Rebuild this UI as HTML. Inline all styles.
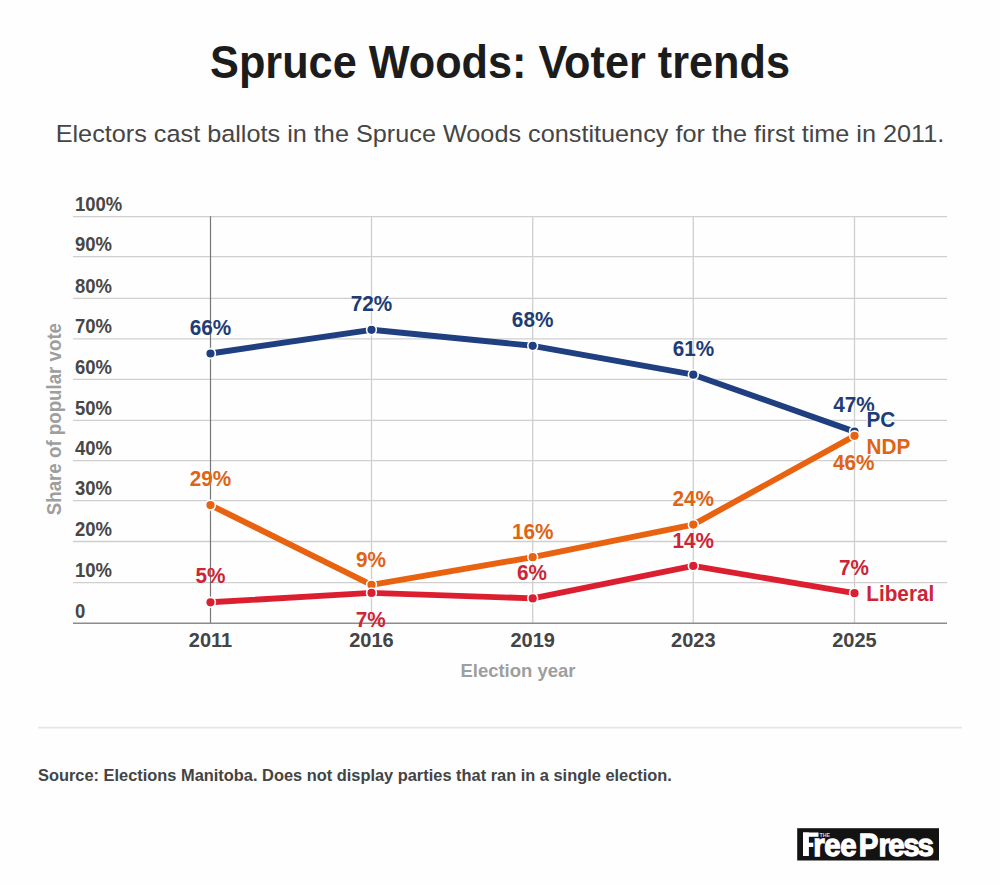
<!DOCTYPE html>
<html><head><meta charset="utf-8">
<style>
html,body{margin:0;padding:0;background:#fefefe;}
body{width:1000px;height:885px;position:relative;overflow:hidden;font-family:"Liberation Sans",sans-serif;}
.t{position:absolute;white-space:nowrap;line-height:1;}
#title{left:0;width:1000px;text-align:center;top:38.5px;font-size:46px;font-weight:bold;color:#1c1c1c;transform:scaleX(0.94);transform-origin:500.5px 0;}
#sub{left:0;width:1000px;text-align:center;top:122.3px;font-size:24.3px;color:#454545;transform:scaleX(1.039);transform-origin:500px 0;}
svg{position:absolute;left:0;top:0;}
svg text{font-family:"Liberation Sans",sans-serif;font-weight:bold;}
svg .rg text{font-weight:normal;}
#src{left:38px;top:767px;font-size:16.4px;font-weight:bold;color:#444;}
#logo{position:absolute;left:797px;top:828px;width:142px;height:32.5px;background:#131313;overflow:hidden;}
#logo span{position:absolute;color:#fff;font-weight:bold;white-space:nowrap;line-height:1;}
</style></head><body>
<div class="t" id="title">Spruce Woods: Voter trends</div>
<div class="t" id="sub">Electors cast ballots in the Spruce Woods constituency for the first time in 2011.</div>
<svg width="1000" height="885" viewBox="0 0 1000 885">

 <g stroke="#cfcfcf" stroke-width="1.3" fill="none">
  <line x1="73" y1="582.6" x2="947" y2="582.6"/>
  <line x1="73" y1="541.5" x2="947" y2="541.5"/>
  <line x1="73" y1="500.6" x2="947" y2="500.6"/>
  <line x1="73" y1="460.6" x2="947" y2="460.6"/>
  <line x1="73" y1="420.3" x2="947" y2="420.3"/>
  <line x1="73" y1="379.4" x2="947" y2="379.4"/>
  <line x1="73" y1="338.9" x2="947" y2="338.9"/>
  <line x1="73" y1="298.4" x2="947" y2="298.4"/>
  <line x1="73" y1="256.7" x2="947" y2="256.7"/>
  <line x1="73" y1="216.6" x2="947" y2="216.6"/>
  <line x1="371.5" y1="216.6" x2="371.5" y2="623.2"/>
  <line x1="532.7" y1="216.6" x2="532.7" y2="623.2"/>
  <line x1="693.3" y1="216.6" x2="693.3" y2="623.2"/>
  <line x1="854.5" y1="216.6" x2="854.5" y2="623.2"/>
 </g>
 <line x1="210.5" y1="216.2" x2="210.5" y2="623.2" stroke="#777" stroke-width="1.2"/>
 <line x1="73" y1="623.2" x2="947" y2="623.2" stroke="#8c8c8c" stroke-width="1.6"/>
 <g font-size="20" fill="#474747">
  <text transform="translate(75,617.5) scale(0.925,1)">0</text>
  <text transform="translate(75,577.0) scale(0.925,1)">10%</text>
  <text transform="translate(75,535.9) scale(0.925,1)">20%</text>
  <text transform="translate(75,495.0) scale(0.925,1)">30%</text>
  <text transform="translate(75,455.0) scale(0.925,1)">40%</text>
  <text transform="translate(75,414.7) scale(0.925,1)">50%</text>
  <text transform="translate(75,373.8) scale(0.925,1)">60%</text>
  <text transform="translate(75,333.3) scale(0.925,1)">70%</text>
  <text transform="translate(75,292.8) scale(0.925,1)">80%</text>
  <text transform="translate(75,251.1) scale(0.925,1)">90%</text>
  <text transform="translate(75,211.0) scale(0.925,1)">100%</text>
 </g>
 <g font-size="20" fill="#444" text-anchor="middle">
  <text x="210.5" y="647">2011</text>
  <text x="371.5" y="647">2016</text>
  <text x="532.7" y="647">2019</text>
  <text x="693.3" y="647">2023</text>
  <text x="854.5" y="647">2025</text>
 </g>
 <text x="518" y="677" font-size="18.5" fill="#9e9e9e" text-anchor="middle">Election year</text>
 <text transform="translate(60.7,419.1) rotate(-90) scale(0.935,1)" font-size="20" fill="#9e9e9e" text-anchor="middle">Share of popular vote</text>
 <g fill="none" stroke-width="5.9" stroke-linejoin="round" stroke-linecap="butt">
  <polyline stroke="#1f3f80" points="210.5,353.5 371.5,329.8 532.7,345.8 693.3,374.7 854.5,431.6"/>
  <polyline stroke="#e8620f" points="210.5,505.1 371.5,584.8 532.7,557.2 693.3,524.6 854.5,435.8"/>
  <polyline stroke="#dc1f30" points="210.5,602.3 371.5,592.9 532.7,598.4 693.3,565.9 854.5,593.2"/>
 </g>
 <g stroke="#fff" stroke-width="1.6">
  <circle cx="210.5" cy="353.5" r="4.9" fill="#1f3f80"/>
  <circle cx="371.5" cy="329.8" r="4.9" fill="#1f3f80"/>
  <circle cx="532.7" cy="345.8" r="4.9" fill="#1f3f80"/>
  <circle cx="693.3" cy="374.7" r="4.9" fill="#1f3f80"/>
  <circle cx="854.5" cy="431.6" r="4.9" fill="#1f3f80"/>
  <circle cx="210.5" cy="505.1" r="4.9" fill="#e8620f"/>
  <circle cx="371.5" cy="584.8" r="4.9" fill="#e8620f"/>
  <circle cx="532.7" cy="557.2" r="4.9" fill="#e8620f"/>
  <circle cx="693.3" cy="524.6" r="4.9" fill="#e8620f"/>
  <circle cx="854.5" cy="435.8" r="4.9" fill="#e8620f"/>
  <circle cx="210.5" cy="602.3" r="4.9" fill="#dc1f30"/>
  <circle cx="371.5" cy="592.9" r="4.9" fill="#dc1f30"/>
  <circle cx="532.7" cy="598.4" r="4.9" fill="#dc1f30"/>
  <circle cx="693.3" cy="565.9" r="4.9" fill="#dc1f30"/>
  <circle cx="854.5" cy="593.2" r="4.9" fill="#dc1f30"/>
 </g>
 <g font-size="22.3" text-anchor="middle" stroke-width="0">
  <text transform="translate(210.4,334.8) scale(0.93,1)" fill="#203c76" stroke="#203c76">66%</text>
  <text transform="translate(371.5,311.2) scale(0.93,1)" fill="#203c76" stroke="#203c76">72%</text>
  <text transform="translate(532.6,327.1) scale(0.93,1)" fill="#203c76" stroke="#203c76">68%</text>
  <text transform="translate(693.4,356.1) scale(0.93,1)" fill="#203c76" stroke="#203c76">61%</text>
  <text transform="translate(854.0,412.2) scale(0.93,1)" fill="#203c76" stroke="#203c76">47%</text>
  <text transform="translate(210.4,486.1) scale(0.93,1)" fill="#df6415" stroke="#df6415">29%</text>
  <text transform="translate(371.0,567.3) scale(0.93,1)" fill="#df6415" stroke="#df6415">9%</text>
  <text transform="translate(532.8,538.7) scale(0.93,1)" fill="#df6415" stroke="#df6415">16%</text>
  <text transform="translate(693.3,506.2) scale(0.93,1)" fill="#df6415" stroke="#df6415">24%</text>
  <text transform="translate(853.8,470.2) scale(0.93,1)" fill="#df6415" stroke="#df6415">46%</text>
  <text transform="translate(210.4,583.4) scale(0.93,1)" fill="#cc2536" stroke="#cc2536">5%</text>
  <text transform="translate(370.8,627.3) scale(0.93,1)" fill="#cc2536" stroke="#cc2536">7%</text>
  <text transform="translate(532.0,579.9) scale(0.93,1)" fill="#cc2536" stroke="#cc2536">6%</text>
  <text transform="translate(693.3,547.5) scale(0.93,1)" fill="#cc2536" stroke="#cc2536">14%</text>
  <text transform="translate(853.9,575.1) scale(0.93,1)" fill="#cc2536" stroke="#cc2536">7%</text>
 </g>
 <g font-size="22.3" stroke="#fff" fill="#fff" stroke-width="2.6" stroke-linejoin="round">
  <text transform="translate(866.5,427.4) scale(0.93,1)">PC</text>
  <text transform="translate(866.5,454.3) scale(0.93,1)">NDP</text>
  <text transform="translate(866.3,600.9) scale(0.93,1)">Liberal</text>
 </g>
 <g font-size="22.3" stroke-width="0">
  <text transform="translate(866.5,427.4) scale(0.93,1)" fill="#203c76" stroke="#203c76">PC</text>
  <text transform="translate(866.5,454.3) scale(0.93,1)" fill="#df6415" stroke="#df6415">NDP</text>
  <text transform="translate(866.3,600.9) scale(0.93,1)" fill="#cc2536" stroke="#cc2536">Liberal</text>
 </g>
 <line x1="38" y1="727.6" x2="962" y2="727.6" stroke="#e6e6e6" stroke-width="1.8"/>
</svg>
<div class="t" id="src">Source: Elections Manitoba. Does not display parties that ran in a single election.</div>
<svg width="1000" height="885" viewBox="0 0 1000 885" style="position:absolute;left:0;top:0">
 <rect x="797.2" y="828.2" width="141.8" height="32.3" fill="#131313"/>
 <g fill="#fff">
  <rect x="803" y="832.5" width="5.9" height="23.5"/>
  <rect x="803" y="832.5" width="15.5" height="4.3"/>
  <rect x="803" y="842.7" width="10.3" height="4.3"/>
 </g>
 <g font-size="32" font-weight="bold" fill="#fff" stroke="#fff" stroke-width="1.25" text-anchor="middle">
  <text transform="translate(818.9,856) scale(0.92,1)">r</text>
  <text transform="translate(832.4,856) scale(0.92,1)">e</text>
  <text transform="translate(848.4,856) scale(0.92,1)">e</text>
  <text transform="translate(868.6,856) scale(0.92,1)">P</text>
  <text transform="translate(884.3,856) scale(0.92,1)">r</text>
  <text transform="translate(896.5,856) scale(0.92,1)">e</text>
  <text transform="translate(911.4,856) scale(0.92,1)">s</text>
  <text transform="translate(925.7,856) scale(0.92,1)">s</text>
 </g>
 <text x="819.5" y="837.2" font-size="5.6" font-weight="bold" fill="#d8d8d8" textLength="10.5" lengthAdjust="spacingAndGlyphs">THE</text>
</svg>
</body></html>
